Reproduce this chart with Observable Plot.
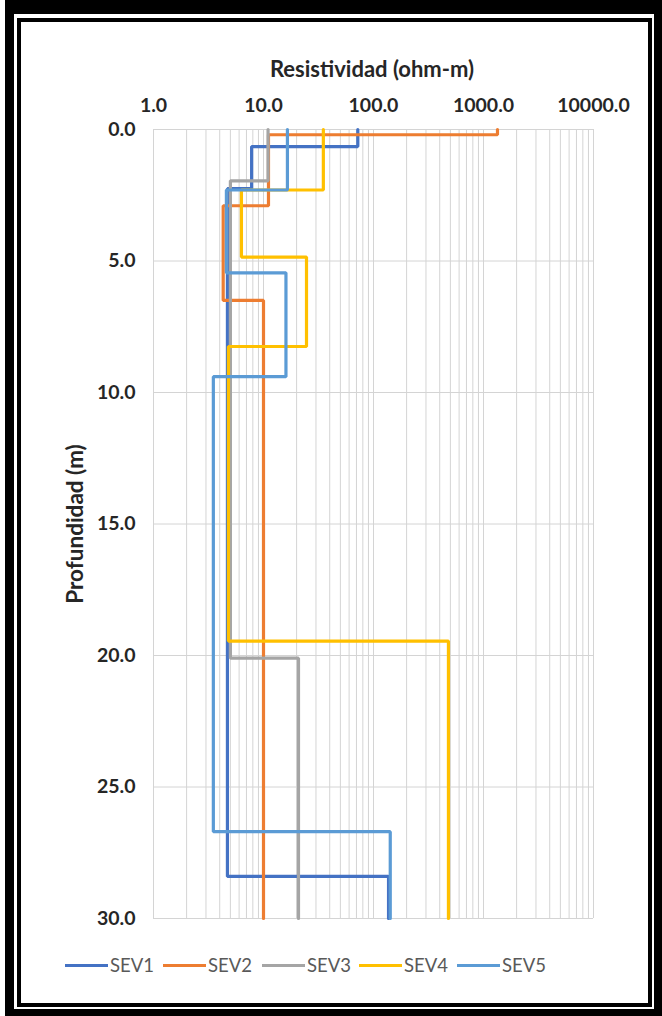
<!DOCTYPE html>
<html>
<head>
<meta charset="utf-8">
<script src="https://cdn.jsdelivr.net/npm/d3@7"></script>
<script src="https://cdn.jsdelivr.net/npm/@observablehq/plot@0.6"></script>
<style>
  html, body { margin: 0; padding: 0; background: #fff; }
  body { width: 662px; height: 1016px; position: relative; overflow: hidden; font-family: Lato, "Open Sans", sans-serif; }
  .abs { position: absolute; }
  #outer { left: 5px; top: 0; width: 657px; height: 1016px; background: #000; }
  #gap { left: 14px; top: 14px; width: 640px; height: 995px; background: #fff; }
  #inner { left: 17px; top: 18px; width: 627px; height: 981px; border: 4px solid #000; background: #fff; }
  #chart { left: 0; top: 0; }
  #title { left: 0; width: 744px; top: 56px; text-align: center; font-weight: bold; font-size: 22px; line-height: 26px; color: #262626; }
  #ylabel { left: 75px; top: 524px; transform: translate(-50%, -50%) rotate(-90deg); white-space: nowrap; font-weight: bold; font-size: 22.5px; line-height: 24px; color: #262626; }
  #legend { left: 0; top: 953px; width: 662px; height: 24px; }
  .item { position: absolute; top: 0; display: flex; align-items: center; font-size: 18.5px; line-height: 24px; color: #595959; }
  .sw { width: 43px; height: 3px; margin-right: 2px; }
</style>
</head>
<body>
<div id="outer" class="abs"></div>
<div id="gap" class="abs"></div>
<div id="inner" class="abs"></div>
<div id="chart" class="abs"></div>
<div id="title" class="abs">Resistividad (ohm-m)</div>
<div id="ylabel" class="abs">Profundidad (m)</div>
<div id="legend" class="abs"></div>
<script>
// Series names and colours
const series = ["SEV1", "SEV2", "SEV3", "SEV4", "SEV5"];
const colors = ["#4472C4", "#ED7D31", "#A5A5A5", "#FFC000", "#5B9BD5"];

// Layer tops (m) and resistivities (ohm-m) per sounding
const sev1Tops = [0, 0.65, 2.25, 28.4];
const sev1Rho  = [72, 7.8, 4.7, 137];
const sev2Tops = [0, 0.2, 2.9, 6.5];
const sev2Rho  = [1340, 11.1, 4.3, 10];
const sev3Tops = [0, 1.95, 20.1];
const sev3Rho  = [11, 5, 20.8];
const sev4Tops = [0, 2.3, 4.85, 8.25, 19.45];
const sev4Rho  = [35, 6.3, 24.6, 4.8, 480];
const sev5Tops = [0, 2.3, 5.45, 9.4, 26.7];
const sev5Rho  = [16.5, 4.6, 16, 3.5, 142];

const maxDepth = 30;

// Axis ticks
const xTicks = [1, 10, 100, 1000, 10000];
const yTicks = [0, 5, 10, 15, 20, 25, 30];
const minorMults = [1, 2, 3, 4, 5, 6, 7, 8, 9];

const layers = [
  [sev1Tops, sev1Rho], [sev2Tops, sev2Rho], [sev3Tops, sev3Rho],
  [sev4Tops, sev4Rho], [sev5Tops, sev5Rho]
];

// Build step-profile vertices from the layer tables
const points = [];
layers.forEach(([tops, rho], s) => {
  tops.forEach((t, i) => {
    const bottom = i + 1 < tops.length ? tops[i + 1] : maxDepth;
    points.push({sev: series[s], rho: rho[i], depth: t});
    points.push({sev: series[s], rho: rho[i], depth: bottom});
  });
});

const gridX = [];
xTicks.slice(0, -1).forEach(d => minorMults.forEach(m => gridX.push(d * m)));
gridX.push(10000);

const fmt = d3.format(".1f");

const chart = Plot.plot({
  width: 662,
  height: 950,
  marginLeft: 153,
  marginRight: 69,
  marginTop: 129,
  marginBottom: 32,
  style: {fontFamily: "Lato, 'Open Sans', sans-serif", background: "transparent", color: "#262626"},
  x: {type: "log", domain: [1, 10000]},
  y: {domain: [0, maxDepth], reverse: true},
  color: {domain: series, range: colors},
  marks: [
    Plot.ruleX(gridX, {stroke: "#d4d4d4", strokeWidth: 1}),
    Plot.ruleY(yTicks, {stroke: "#d4d4d4", strokeWidth: 1}),
    Plot.axisX({anchor: "top", ticks: xTicks, tickFormat: fmt, tickSize: 0, tickPadding: 18, fontSize: 19.5, fontWeight: "bold", label: null}),
    Plot.axisY({anchor: "left", ticks: yTicks, tickFormat: fmt, tickSize: 0, tickPadding: 18, fontSize: 19.5, fontWeight: "bold", label: null}),
    Plot.line(points, {x: "rho", y: "depth", z: "sev", stroke: "sev", strokeWidth: 3.2, curve: "linear", strokeLinejoin: "miter"})
  ]
});
document.getElementById("chart").appendChild(chart);

// Legend
const legend = document.getElementById("legend");
const legendX = [65, 163, 262, 359, 457];
series.forEach((s, i) => {
  const item = document.createElement("div");
  item.className = "item";
  item.style.left = legendX[i] + "px";
  const sw = document.createElement("span");
  sw.className = "sw";
  sw.style.background = colors[i];
  const tx = document.createElement("span");
  tx.textContent = s;
  item.appendChild(sw);
  item.appendChild(tx);
  legend.appendChild(item);
});
</script>
</body>
</html>
